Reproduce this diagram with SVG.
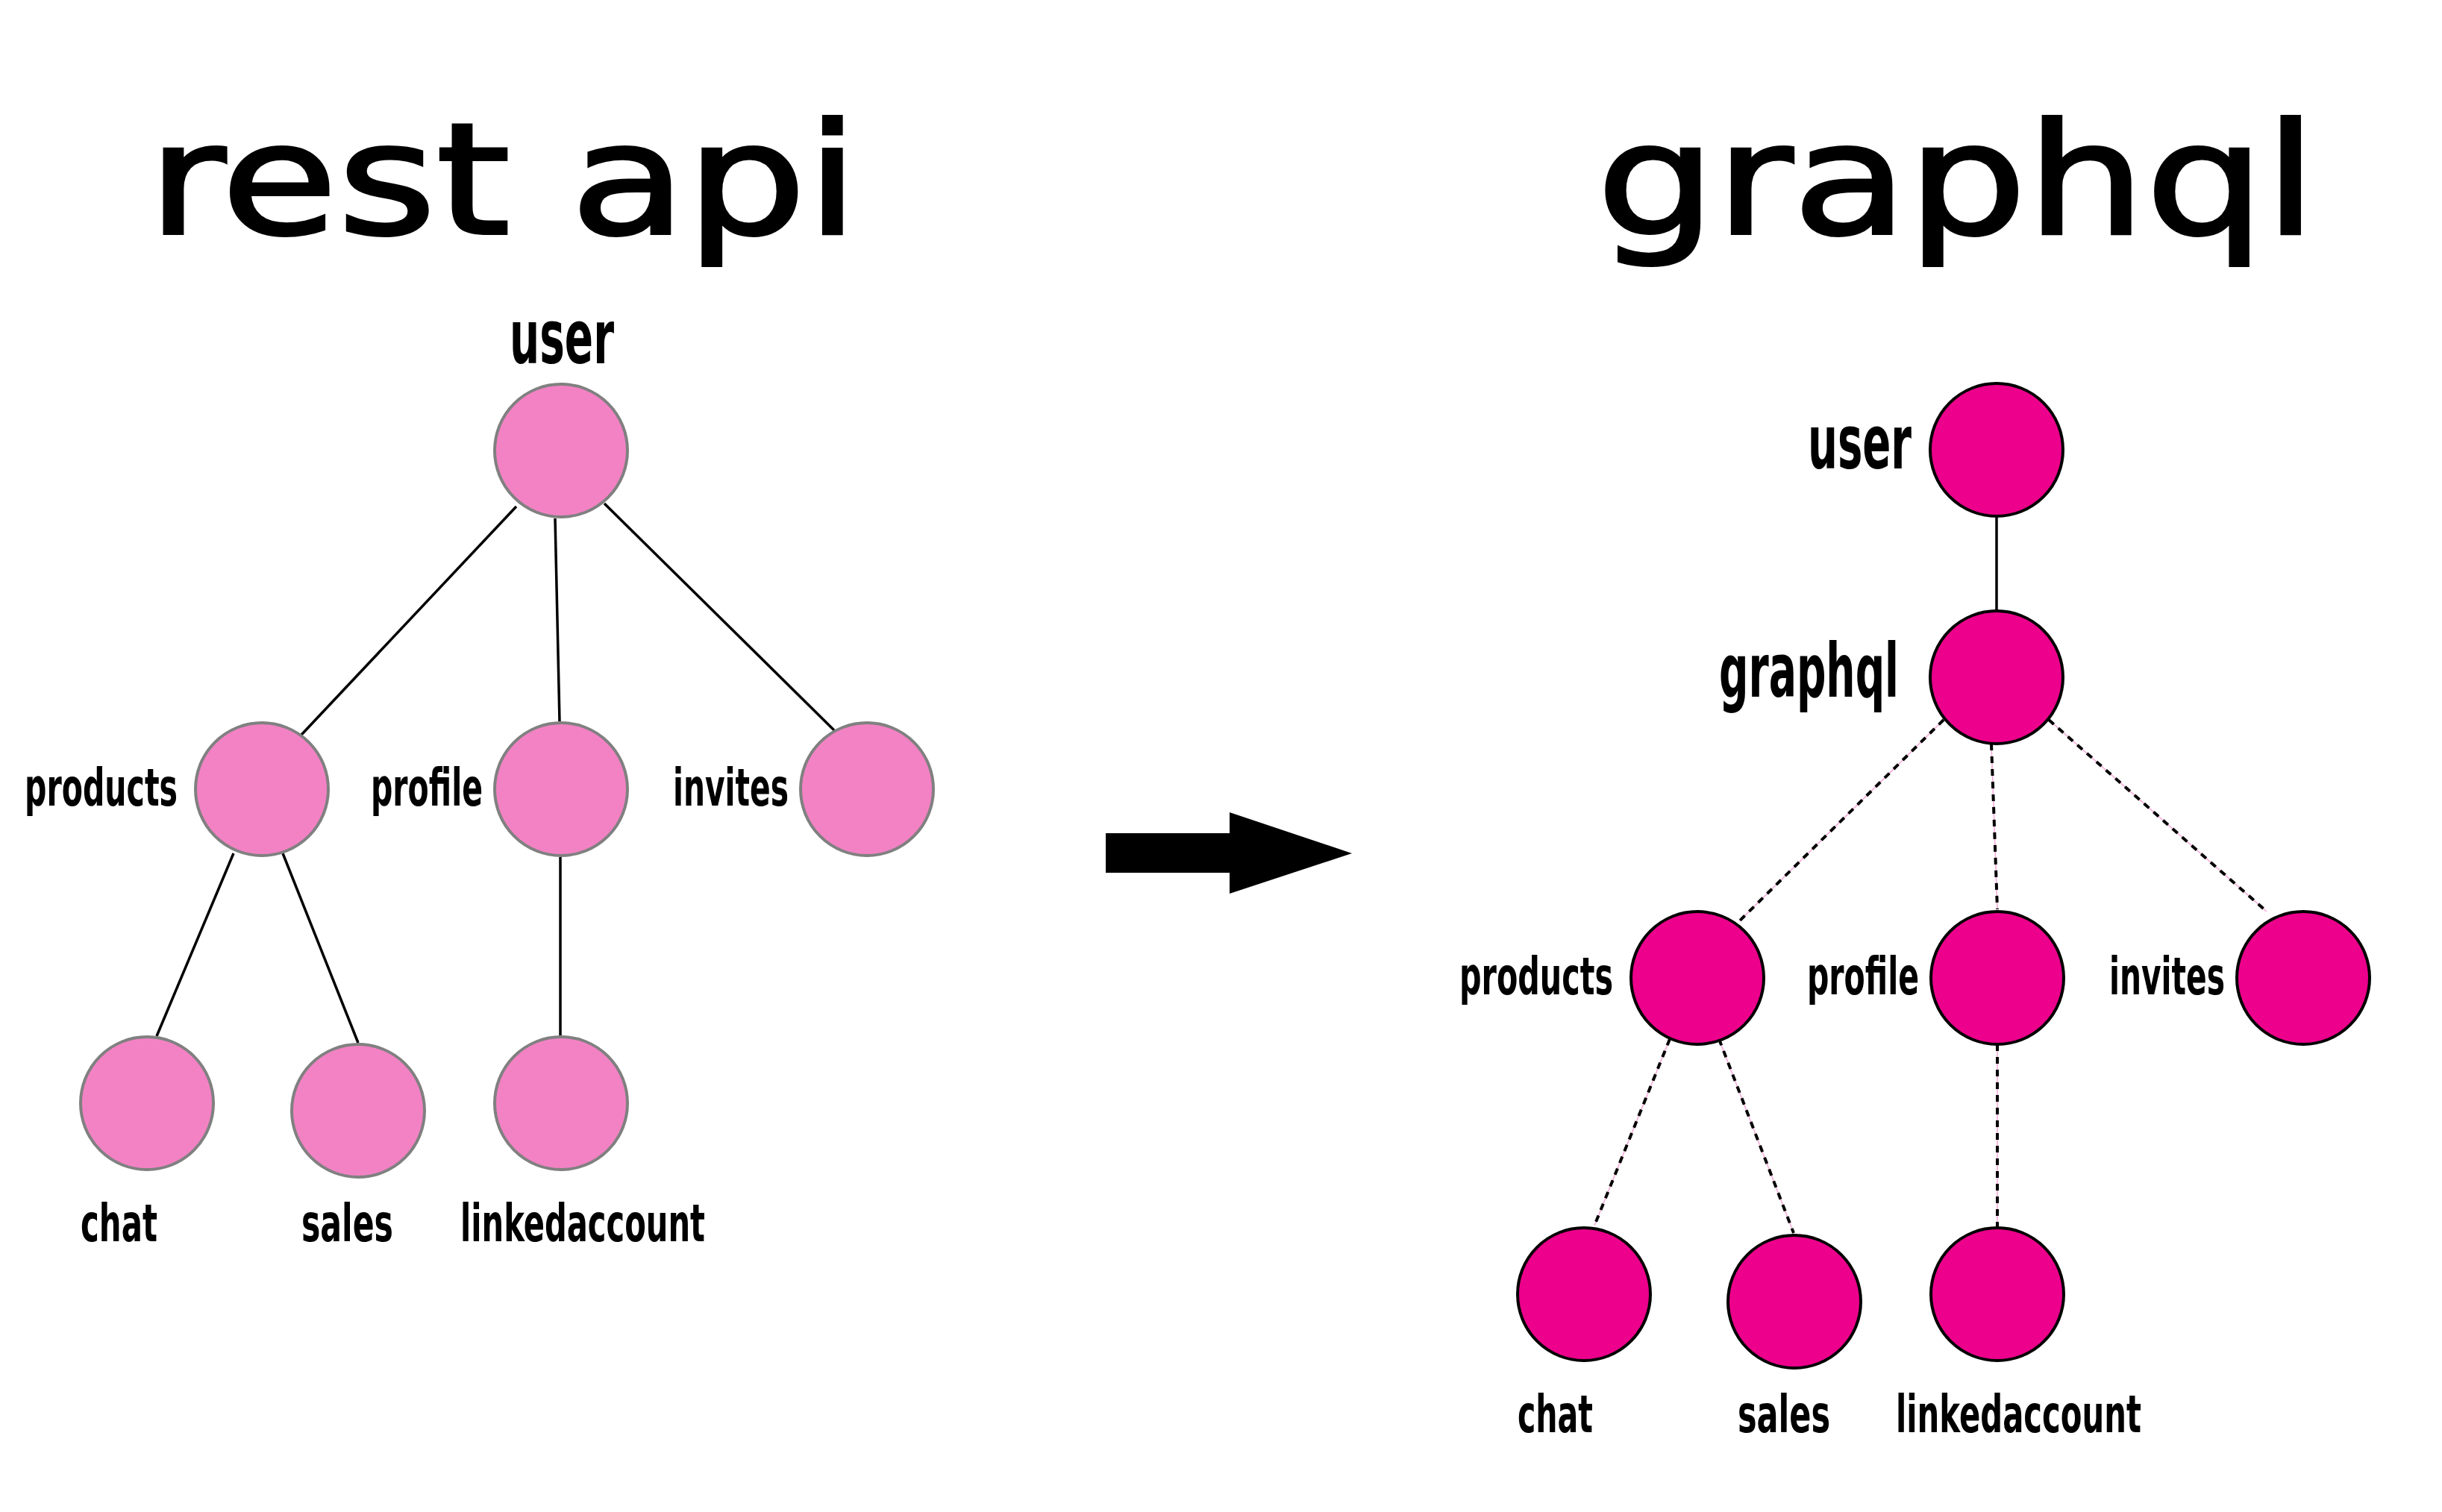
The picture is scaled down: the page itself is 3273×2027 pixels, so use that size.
<svg xmlns="http://www.w3.org/2000/svg" width="3273" height="2027" viewBox="0 0 3273 2027">
<style>
.title{font-family:"DejaVu Sans",sans-serif;font-size:206px;fill:#000;stroke:#000;stroke-width:4px}
.lbl{font-family:"DejaVu Sans Condensed","DejaVu Sans",sans-serif;font-weight:bold;font-stretch:condensed;font-size:70px;fill:#000}
.big{font-size:99px}
.nl{fill:#f382c4;stroke:#808080;stroke-width:4}
.nr{fill:#ec008c;stroke:#000;stroke-width:4}
.solid{stroke:#000;stroke-width:3.5;fill:none}
.pinkline{stroke:#f7a8d8;stroke-width:1.5;fill:none}
.dash{stroke:#000;stroke-width:4;stroke-dasharray:9 8;fill:none}
</style>
<rect width="3273" height="2027" fill="#fff"/>
<text class="title" x="198" y="313" textLength="953" lengthAdjust="spacingAndGlyphs">rest api</text>
<text class="title" x="2140" y="313" textLength="965" lengthAdjust="spacingAndGlyphs">graphql</text>
<g id="connectors">
<line class="solid" x1="692" y1="679" x2="404" y2="985"/>
<line class="solid" x1="744" y1="695" x2="750" y2="967"/>
<line class="solid" x1="810" y1="675" x2="1118" y2="979"/>
<line class="solid" x1="313" y1="1144" x2="210" y2="1389"/>
<line class="solid" x1="379" y1="1144" x2="480" y2="1398"/>
<line class="solid" x1="751" y1="1149" x2="751" y2="1389"/>
<line class="solid" x1="2676" y1="694" x2="2676" y2="818"/>
<g>
<line class="pinkline" x1="2605" y1="965" x2="2331" y2="1235"/>
<line class="dash" x1="2605" y1="965" x2="2331" y2="1235"/>
<line class="pinkline" x1="2669" y1="997" x2="2677" y2="1219"/>
<line class="dash" x1="2669" y1="997" x2="2677" y2="1219"/>
<line class="pinkline" x1="2746" y1="965" x2="3038" y2="1222"/>
<line class="dash" x1="2746" y1="965" x2="3038" y2="1222"/>
<line class="pinkline" x1="2238" y1="1393" x2="2137" y2="1643"/>
<line class="dash" x1="2238" y1="1393" x2="2137" y2="1643"/>
<line class="pinkline" x1="2304" y1="1393" x2="2404" y2="1653"/>
<line class="dash" x1="2304" y1="1393" x2="2404" y2="1653"/>
<line class="pinkline" x1="2677" y1="1400" x2="2677" y2="1645"/>
<line class="dash" x1="2677" y1="1400" x2="2677" y2="1645"/>
</g>
</g>
<g id="arrow">
<path d="M1482,1117 H1648 V1089 L1812,1144 L1648,1198 V1170 H1482 Z" fill="#000"/>
</g>
<g id="rest-user"><circle class="nl" cx="752" cy="604" r="89"/><text class="lbl big" x="683" y="487" textLength="140" lengthAdjust="spacingAndGlyphs">user</text></g>
<g id="rest-products"><circle class="nl" cx="351" cy="1058" r="89"/><text class="lbl" x="33" y="1080" textLength="205" lengthAdjust="spacingAndGlyphs">products</text></g>
<g id="rest-profile"><circle class="nl" cx="752" cy="1058" r="89"/><text class="lbl" x="497" y="1080" textLength="150" lengthAdjust="spacingAndGlyphs">profile</text></g>
<g id="rest-invites"><circle class="nl" cx="1162" cy="1058" r="89"/><text class="lbl" x="902" y="1080" textLength="155" lengthAdjust="spacingAndGlyphs">invites</text></g>
<g id="rest-chat"><circle class="nl" cx="197" cy="1479" r="89"/><text class="lbl" x="108" y="1664" textLength="103" lengthAdjust="spacingAndGlyphs">chat</text></g>
<g id="rest-sales"><circle class="nl" cx="480" cy="1489" r="89"/><text class="lbl" x="404" y="1664" textLength="123" lengthAdjust="spacingAndGlyphs">sales</text></g>
<g id="rest-linkedaccount"><circle class="nl" cx="752" cy="1479" r="89"/><text class="lbl" x="617" y="1664" textLength="328" lengthAdjust="spacingAndGlyphs">linkedaccount</text></g>
<g id="gql-user"><circle class="nr" cx="2676" cy="603" r="89"/><text class="lbl big" x="2423" y="628" textLength="139" lengthAdjust="spacingAndGlyphs">user</text></g>
<g id="gql-graphql"><circle class="nr" cx="2676" cy="908" r="89"/><text class="lbl big" x="2304" y="934" textLength="241" lengthAdjust="spacingAndGlyphs">graphql</text></g>
<g id="gql-products"><circle class="nr" cx="2275" cy="1311" r="89"/><text class="lbl" x="1956" y="1333" textLength="206" lengthAdjust="spacingAndGlyphs">products</text></g>
<g id="gql-profile"><circle class="nr" cx="2677" cy="1311" r="89"/><text class="lbl" x="2422" y="1333" textLength="150" lengthAdjust="spacingAndGlyphs">profile</text></g>
<g id="gql-invites"><circle class="nr" cx="3087" cy="1311" r="89"/><text class="lbl" x="2827" y="1333" textLength="155" lengthAdjust="spacingAndGlyphs">invites</text></g>
<g id="gql-chat"><circle class="nr" cx="2123" cy="1735" r="89"/><text class="lbl" x="2034" y="1920" textLength="101" lengthAdjust="spacingAndGlyphs">chat</text></g>
<g id="gql-sales"><circle class="nr" cx="2405" cy="1745" r="89"/><text class="lbl" x="2329" y="1920" textLength="124" lengthAdjust="spacingAndGlyphs">sales</text></g>
<g id="gql-linkedaccount"><circle class="nr" cx="2677" cy="1735" r="89"/><text class="lbl" x="2541" y="1920" textLength="329" lengthAdjust="spacingAndGlyphs">linkedaccount</text></g>
</svg>
